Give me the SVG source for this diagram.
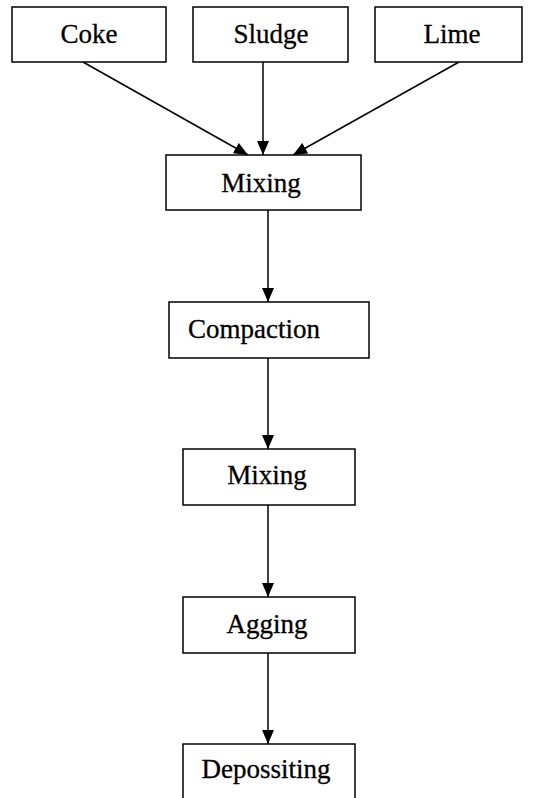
<svg xmlns="http://www.w3.org/2000/svg" width="534" height="798" viewBox="0 0 534 798">
<style>
.box{fill:#fff;stroke:#000;stroke-width:1.5}
.t{font-family:"Liberation Serif","Times New Roman",serif;font-size:27px;fill:#000;stroke:#000;stroke-width:0.3}
.c{text-anchor:middle}
.e{stroke:#000;stroke-width:1.5;fill:none;marker-end:url(#ah)}
</style>
<defs>
<marker id="ah" markerWidth="14" markerHeight="12" refX="14" refY="6" orient="auto" markerUnits="userSpaceOnUse" viewBox="0 0 14 12">
<path d="M0,0 L14,6 L0,12 Z" fill="#000"/>
</marker>
</defs>
<rect width="534" height="798" fill="#fff"/>
<g id="connectors">
<line class="e" x1="83" y1="62" x2="248" y2="155"/>
<line class="e" x1="263" y1="62" x2="263" y2="155"/>
<line class="e" x1="459" y1="62" x2="293" y2="155"/>
<line class="e" x1="268" y1="210" x2="268" y2="302"/>
<line class="e" x1="268" y1="358" x2="268" y2="449"/>
<line class="e" x1="268" y1="505" x2="268" y2="597"/>
<line class="e" x1="268" y1="653" x2="268" y2="744"/>
</g>
<g id="coke"><rect class="box" x="12" y="7" width="154" height="55"/><text class="t c" x="89" y="43">Coke</text></g>
<g id="sludge"><rect class="box" x="193" y="7" width="155" height="55"/><text class="t c" x="271" y="43">Sludge</text></g>
<g id="lime"><rect class="box" x="375" y="7" width="147" height="55"/><text class="t c" x="452" y="43">Lime</text></g>
<g id="mixing1"><rect class="box" x="166" y="155" width="195" height="55"/><text class="t c" x="261" y="192">Mixing</text></g>
<g id="compaction"><rect class="box" x="169" y="302" width="200" height="56"/><text class="t" x="188" y="338">Compaction</text></g>
<g id="mixing2"><rect class="box" x="183" y="449" width="172" height="56"/><text class="t c" x="267" y="484">Mixing</text></g>
<g id="agging"><rect class="box" x="183" y="597" width="172" height="56"/><text class="t c" x="267" y="633">Agging</text></g>
<g id="depositing"><rect class="box" x="183" y="744" width="172" height="60"/><text class="t c" x="266" y="778">Depossiting</text></g>
</svg>
